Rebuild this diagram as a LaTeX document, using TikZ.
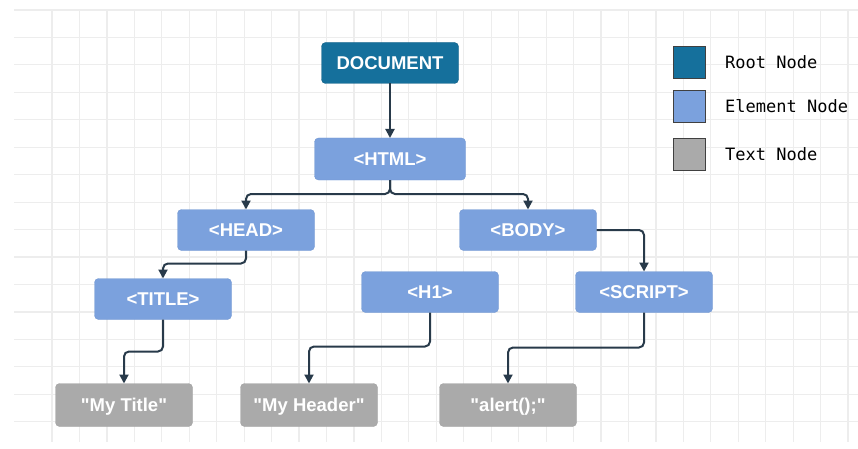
\documentclass[tikz,border=0pt]{standalone}
\usepackage{fontspec}
\setmainfont{Liberation Sans}
\newfontfamily\legendfont{DejaVu Sans Mono}
\usepackage{tikz,tkz-graph}
\usetikzlibrary{arrows.meta}
\definecolor{rootBlue}{RGB}{21,112,156}
\definecolor{elemBlue}{RGB}{123,161,221}
\definecolor{textGray}{RGB}{170,170,170}
\definecolor{linkDark}{RGB}{40,58,74}
\definecolor{gridGray}{RGB}{237,237,237}
\tikzstyle{boxBase}=[shape = rectangle, rounded corners = 4pt, text = white, minimum width = 137pt, minimum height = 41pt, inner sep = 0pt, text height = 13pt, text depth = 0pt, font = \fontsize{18.5}{20}\selectfont\bfseries]
\tikzstyle{rootStyle}=[boxBase, fill = rootBlue, draw = rootBlue!85!black]
\tikzstyle{elemStyle}=[boxBase, fill = elemBlue, draw = elemBlue!95!black]
\tikzstyle{textStyle}=[boxBase, fill = textGray, draw = textGray!95!black, minimum height = 43pt]

\begin{document}
\begin{tikzpicture}[x = 1pt, y = -1pt]
\tikzstyle{VertexStyle} = []
\tikzstyle{EdgeStyle} = []
\tikzstyle{gridLine}=[draw = gridGray, line width = 1.2pt]
\tikzstyle{linkStyle}=[draw = linkDark, line width = 2pt, rounded corners = 5pt, -{Triangle[width = 9pt, length = 9pt]}]
\tikzstyle{legendBox}=[shape = rectangle, minimum size = 32pt, inner sep = 0pt, draw = black!75, line width = 0.9pt]
\tikzstyle{legendText}=[anchor = west, inner sep = 0pt, font = \legendfont\fontsize{17}{20}\selectfont]
\useasboundingbox (0,0) rectangle (858,449);
\foreach \i in {0,...,29} {\draw[gridLine] ({52+27.45*\i},10) -- ({52+27.45*\i},442);}
\foreach \j in {0,...,15} {\draw[gridLine] (14,{10+27.45*\j}) -- (858,{10+27.45*\j});}
\Vertex[style = rootStyle, x = 390, y = 63, L = {DOCUMENT}]{doc}
\Vertex[style = {elemStyle, minimum width = 151pt, minimum height = 42pt}, x = 390, y = 159, L = {<HTML>}]{html}
\Vertex[style = elemStyle, x = 246, y = 230, L = {<HEAD>}]{head}
\Vertex[style = elemStyle, x = 528, y = 230, L = {<BODY>}]{body}
\Vertex[style = elemStyle, x = 163, y = 299, L = {<TITLE>}]{title}
\Vertex[style = elemStyle, x = 430, y = 292, L = {<H1>}]{hone}
\Vertex[style = elemStyle, x = 644, y = 292, L = {<SCRIPT>}]{script}
\Vertex[style = textStyle, x = 124, y = 405, L = {\textquotedbl My Title\textquotedbl}]{mytitle}
\Vertex[style = textStyle, x = 309, y = 405, L = {\textquotedbl My Header\textquotedbl}]{myheader}
\Vertex[style = textStyle, x = 508, y = 405, L = {\textquotedbl alert();\textquotedbl}]{alert}
\draw[linkStyle] (doc) -- (html);
\draw[linkStyle] (html.south) -- ++(0,14) -| (head.north);
\draw[linkStyle] (html.south) -- ++(0,14) -| (body.north);
\draw[linkStyle] (head.south) -- ++(0,13) -| (title.north);
\draw[linkStyle] (body.east) -| (script.north);
\draw[linkStyle] (title.south) -- ++(0,32) -| (mytitle.north);
\draw[linkStyle] (hone.south) -- ++(0,34) -| (myheader.north);
\draw[linkStyle] (script.south) -- ++(0,35) -| (alert.north);
\node[legendBox, fill = rootBlue] (rootKey) at (689,62) {};
\node[legendBox, fill = elemBlue] (elemKey) at (689,106) {};
\node[legendBox, fill = textGray] (textKey) at (689,154) {};
\node[legendText] (rootLabel) at (725,62) {Root Node};
\node[legendText] (elemLabel) at (725,106) {Element Node};
\node[legendText] (textLabel) at (725,154) {Text Node};
\end{tikzpicture}
\end{document}
